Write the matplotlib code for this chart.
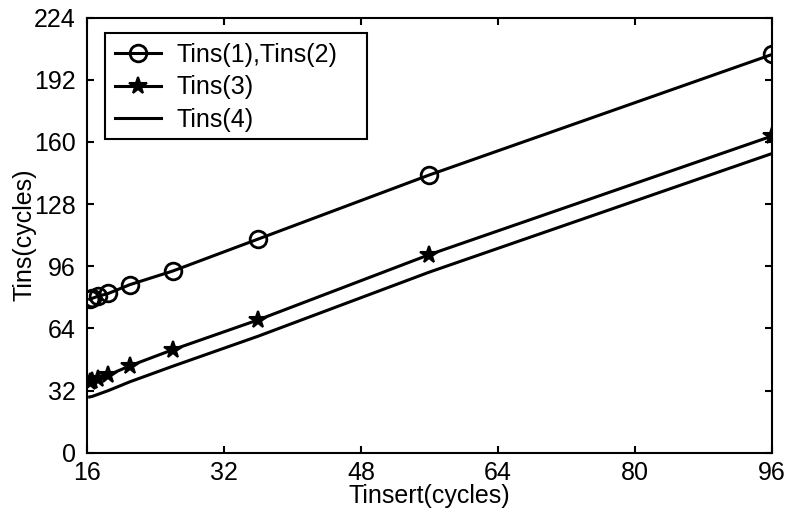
import matplotlib
matplotlib.use("Agg")
import matplotlib.pyplot as plt
from matplotlib.patches import Rectangle

plt.rcParams['font.family'] = ['Liberation Sans', 'DejaVu Sans']

x_vals = [16.3125, 16.625, 17.25, 18.5, 21, 26, 36, 56, 96]
tins12 = [79, 79.5, 80.5, 82, 86.5, 93.5, 110, 143, 205]
tins3 = [36.5, 37, 38, 40, 44.7, 53, 68.4, 102, 163]
tins4 = [28.7, 29, 30, 32, 36.5, 44.5, 60, 93, 154]

xticks = [16, 32, 48, 64, 80, 96]
yticks = [0, 32, 64, 96, 128, 160, 192, 224]

fig = plt.figure(figsize=(7.88, 5.13), dpi=100)
ax = fig.add_axes([0.1104, 0.1175, 0.8693, 0.8483])

ax.plot(x_vals, tins12, color='black', lw=2.2, marker='o', mfc='none',
        mec='black', ms=12, mew=2, label='Tins(1),Tins(2)')
ax.plot(x_vals, tins3, color='black', lw=2.2, marker='*', mfc='black',
        mec='black', ms=13, mew=1.5, label='Tins(3)')
ax.plot(x_vals, tins4, color='black', lw=2.2, label='Tins(4)')

ax.set_xlim(16, 96)
ax.set_ylim(0, 224)
ax.set_xticks(xticks)
ax.set_yticks(yticks)
ax.tick_params(direction='in', length=5, width=1.5, top=True, right=True,
               labelsize=18)
ax.tick_params(axis='x', pad=6)
ax.tick_params(axis='y', pad=8)
for s in ax.spines.values():
    s.set_linewidth(1.5)

ax.set_xlabel('Tinsert(cycles)', fontsize=18, labelpad=-1)
ax.set_ylabel('Tins(cycles)', fontsize=18, labelpad=-2)

# legend box (MATLAB style, wider on the right)
box = Rectangle((0.0263, 0.7208), 0.3825, 0.2436, transform=ax.transAxes,
                facecolor='white', edgecolor='black', lw=1.5, zorder=4)
ax.add_patch(box)
leg = ax.legend(loc='upper left', bbox_to_anchor=(0.026, 0.964),
                fontsize=18, frameon=False,
                handlelength=1.84, handletextpad=0.64, labelspacing=0.33,
                borderpad=0.4, borderaxespad=0)
leg.set_zorder(5)

fig.savefig('out.png', dpi=100)
